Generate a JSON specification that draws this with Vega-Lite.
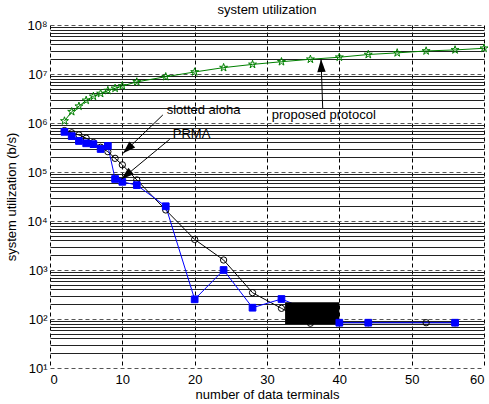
{
  "$schema": "https://vega.github.io/schema/vega-lite/v6.json",
  "width": 434,
  "height": 343,
  "autosize": "none",
  "padding": {"left": 50, "top": 25, "right": 5, "bottom": 36},
  "background": "white",
  "title": {"text": "system utilization", "fontSize": 13, "font": "Liberation Sans", "fontWeight": "normal", "color": "black", "offset": 0, "anchor": "middle", "frame": "group", "baseline": "bottom", "dy": 11},
  "config": {"view": {"stroke": null}, "font": "Liberation Sans"},
  "datasets": {
    "proposed": [
      {"x": 2, "y": 1100000}, {"x": 3, "y": 1700000}, {"x": 4, "y": 2200000}, {"x": 5, "y": 2900000},
      {"x": 6, "y": 3500000}, {"x": 7, "y": 4000000}, {"x": 8, "y": 4600000}, {"x": 9, "y": 5100000},
      {"x": 10, "y": 5700000}, {"x": 12, "y": 6900000}, {"x": 16, "y": 8800000}, {"x": 20, "y": 11000000},
      {"x": 24, "y": 13500000}, {"x": 28, "y": 15700000}, {"x": 32, "y": 17800000}, {"x": 36, "y": 20000000},
      {"x": 40, "y": 22000000}, {"x": 44, "y": 25000000}, {"x": 48, "y": 27000000}, {"x": 52, "y": 29500000},
      {"x": 56, "y": 31000000}, {"x": 60, "y": 33500000}
    ],
    "prma": [
      {"x": 2, "y": 660000}, {"x": 3, "y": 540000}, {"x": 4, "y": 430000}, {"x": 5, "y": 385000},
      {"x": 6, "y": 370000}, {"x": 7, "y": 295000}, {"x": 8, "y": 340000}, {"x": 9, "y": 72000},
      {"x": 10, "y": 63000}, {"x": 12, "y": 54000}, {"x": 16, "y": 20000}, {"x": 20, "y": 252},
      {"x": 24, "y": 1000}, {"x": 28, "y": 170}, {"x": 32, "y": 256}, {"x": 40, "y": 84},
      {"x": 44, "y": 84}, {"x": 56, "y": 84}
    ],
    "aloha": [
      {"x": 2, "y": 700000}, {"x": 3, "y": 630000}, {"x": 4, "y": 570000}, {"x": 5, "y": 490000},
      {"x": 6, "y": 400000}, {"x": 7, "y": 320000}, {"x": 8, "y": 260000}, {"x": 9, "y": 190000},
      {"x": 10, "y": 140000}, {"x": 12, "y": 69000}, {"x": 16, "y": 16800}, {"x": 20, "y": 4200},
      {"x": 24, "y": 1600}, {"x": 28, "y": 344}, {"x": 32, "y": 165}, {"x": 36, "y": 82},
      {"x": 40, "y": 84}, {"x": 44, "y": 84}, {"x": 52, "y": 84}, {"x": 56, "y": 84}
    ],
    "box": [{"x": 32.5, "x2": 40, "y": 219, "y2": 79}],
    "arrows": [
      {"name": "aloha", "x": 15.6, "y": 1460000, "x2": 10.1, "y2": 241000},
      {"name": "prma", "x": 16.55, "y": 465000, "x2": 9.86, "y2": 71000},
      {"name": "proposed", "x": 37.7, "y": 2020000, "x2": 37.47, "y2": 20000000}
    ],
    "labels": [
      {"label": "slotted aloha", "x": 16.13, "y": 1840000},
      {"label": "PRMA", "x": 16.97, "y": 597000},
      {"label": "proposed protocol", "x": 30.65, "y": 1460000}
    ]
  },
  "layer": [
    {
      "data": {"name": "proposed"},
      "mark": {"type": "line", "color": "#008000", "strokeWidth": 1},
      "encoding": {
        "x": {"field": "x", "type": "quantitative", "scale": {"domain": [0, 60], "nice": false, "zero": false},
          "axis": {"title": "number of data terminals", "values": [0, 10, 20, 30, 40, 50, 60], "grid": true, "gridDash": [4, 3], "gridColor": "#000000", "gridWidth": 1, "gridOpacity": 1,
            "ticks": false, "domain": false, "labelFontSize": 13, "labelColor": "black", "labelPadding": 5, "labelFont": "Liberation Sans",
            "titleFontSize": 13, "titleFontWeight": "normal", "titleColor": "black", "titlePadding": 2, "titleFont": "Liberation Sans"}},
        "y": {"field": "y", "type": "quantitative", "scale": {"type": "log", "domain": [10, 100000000], "nice": false},
          "axis": {"title": "system utilization (b/s)",
            "values": [10, 20, 30, 40, 50, 60, 70, 80, 90, 100, 200, 300, 400, 500, 600, 700, 800, 900, 1000, 2000, 3000, 4000, 5000, 6000, 7000, 8000, 9000, 10000, 20000, 30000, 40000, 50000, 60000, 70000, 80000, 90000, 100000, 200000, 300000, 400000, 500000, 600000, 700000, 800000, 900000, 1000000, 2000000, 3000000, 4000000, 5000000, 6000000, 7000000, 8000000, 9000000, 10000000, 20000000, 30000000, 40000000, 50000000, 60000000, 70000000, 80000000, 90000000, 100000000],
            "labelExpr": "abs(log(datum.value)/LN10 - round(log(datum.value)/LN10)) < 0.001 ? '10' + ['⁰','¹','²','³','⁴','⁵','⁶','⁷','⁸'][round(log(datum.value)/LN10)] : ''",
            "grid": true,
            "gridDash": {"condition": {"test": "abs(log(datum.value)/LN10 - round(log(datum.value)/LN10)) < 0.001", "value": [4, 3]}, "value": []},
            "gridColor": {"condition": {"test": "abs(log(datum.value)/LN10 - round(log(datum.value)/LN10)) < 0.001", "value": "#555555"}, "value": "#222222"},
            "gridWidth": 1, "gridOpacity": 1,
            "ticks": false, "domain": false, "labelFontSize": 13, "labelColor": "black", "labelPadding": 3, "labelFont": "Liberation Sans", "labelOverlap": false, "labelBound": false, "labelFlush": false,
            "titleFontSize": 13, "titleFontWeight": "normal", "titleColor": "black", "titlePadding": 8, "titleFont": "Liberation Sans"}}
      }
    },
    {
      "data": {"name": "aloha"},
      "mark": {"type": "line", "color": "#000000", "strokeWidth": 1},
      "encoding": {
        "x": {"field": "x", "type": "quantitative", "scale": {"domain": [0, 60], "nice": false, "zero": false}},
        "y": {"field": "y", "type": "quantitative", "scale": {"type": "log", "domain": [10, 100000000], "nice": false}}
      }
    },
    {
      "data": {"name": "prma"},
      "mark": {"type": "line", "color": "#0000ff", "strokeWidth": 1},
      "encoding": {
        "x": {"field": "x", "type": "quantitative", "scale": {"domain": [0, 60], "nice": false, "zero": false}},
        "y": {"field": "y", "type": "quantitative", "scale": {"type": "log", "domain": [10, 100000000], "nice": false}}
      }
    },
    {
      "data": {"name": "box"},
      "mark": {"type": "rect", "color": "#000000"},
      "encoding": {
        "x": {"field": "x", "type": "quantitative", "scale": {"domain": [0, 60], "nice": false, "zero": false}},
        "x2": {"field": "x2"},
        "y": {"field": "y", "type": "quantitative", "scale": {"type": "log", "domain": [10, 100000000], "nice": false}},
        "y2": {"field": "y2"}
      }
    },
    {
      "data": {"name": "aloha"},
      "mark": {"type": "point", "shape": "circle", "filled": false, "stroke": "#000000", "strokeWidth": 1, "size": 40, "opacity": 1},
      "encoding": {
        "x": {"field": "x", "type": "quantitative", "scale": {"domain": [0, 60], "nice": false, "zero": false}},
        "y": {"field": "y", "type": "quantitative", "scale": {"type": "log", "domain": [10, 100000000], "nice": false}}
      }
    },
    {
      "data": {"name": "prma"},
      "mark": {"type": "point", "shape": "square", "filled": true, "fill": "#0000ff", "stroke": "#0000ff", "strokeWidth": 1, "size": 45, "opacity": 1},
      "encoding": {
        "x": {"field": "x", "type": "quantitative", "scale": {"domain": [0, 60], "nice": false, "zero": false}},
        "y": {"field": "y", "type": "quantitative", "scale": {"type": "log", "domain": [10, 100000000], "nice": false}}
      }
    },
    {
      "data": {"name": "proposed"},
      "mark": {"type": "point", "shape": "M0,-1L0.2245,-0.309L0.951,-0.309L0.363,0.118L0.588,0.809L0,0.382L-0.588,0.809L-0.363,0.118L-0.951,-0.309L-0.2245,-0.309Z", "filled": false, "stroke": "#008000", "strokeWidth": 1, "size": 70, "opacity": 1},
      "encoding": {
        "x": {"field": "x", "type": "quantitative", "scale": {"domain": [0, 60], "nice": false, "zero": false}},
        "y": {"field": "y", "type": "quantitative", "scale": {"type": "log", "domain": [10, 100000000], "nice": false}}
      }
    },
    {
      "data": {"name": "arrows"},
      "mark": {"type": "rule", "color": "#000000", "strokeWidth": 1},
      "encoding": {
        "x": {"field": "x", "type": "quantitative", "scale": {"domain": [0, 60], "nice": false, "zero": false}},
        "x2": {"field": "x2"},
        "y": {"field": "y", "type": "quantitative", "scale": {"type": "log", "domain": [10, 100000000], "nice": false}},
        "y2": {"field": "y2"}
      }
    },
    {
      "data": {"name": "arrows"},
      "transform": [{"filter": "datum.name == 'aloha'"}],
      "mark": {"type": "point", "shape": "M0,0L-0.33,1L0.33,1Z", "filled": true, "color": "#000000", "size": 650, "angle": 226, "opacity": 1, "strokeWidth": 0},
      "encoding": {
        "x": {"field": "x2", "type": "quantitative", "scale": {"domain": [0, 60], "nice": false, "zero": false}},
        "y": {"field": "y2", "type": "quantitative", "scale": {"type": "log", "domain": [10, 100000000], "nice": false}}
      }
    },
    {
      "data": {"name": "arrows"},
      "transform": [{"filter": "datum.name == 'prma'"}],
      "mark": {"type": "point", "shape": "M0,0L-0.33,1L0.33,1Z", "filled": true, "color": "#000000", "size": 650, "angle": 230, "opacity": 1, "strokeWidth": 0},
      "encoding": {
        "x": {"field": "x2", "type": "quantitative", "scale": {"domain": [0, 60], "nice": false, "zero": false}},
        "y": {"field": "y2", "type": "quantitative", "scale": {"type": "log", "domain": [10, 100000000], "nice": false}}
      }
    },
    {
      "data": {"name": "arrows"},
      "transform": [{"filter": "datum.name == 'proposed'"}],
      "mark": {"type": "point", "shape": "M0,0L-0.33,1L0.33,1Z", "filled": true, "color": "#000000", "size": 650, "angle": 358, "opacity": 1, "strokeWidth": 0},
      "encoding": {
        "x": {"field": "x2", "type": "quantitative", "scale": {"domain": [0, 60], "nice": false, "zero": false}},
        "y": {"field": "y2", "type": "quantitative", "scale": {"type": "log", "domain": [10, 100000000], "nice": false}}
      }
    },
    {
      "data": {"name": "labels"},
      "mark": {"type": "text", "align": "left", "baseline": "middle", "fontSize": 13, "font": "Liberation Sans", "color": "#000000"},
      "encoding": {
        "x": {"field": "x", "type": "quantitative", "scale": {"domain": [0, 60], "nice": false, "zero": false}},
        "y": {"field": "y", "type": "quantitative", "scale": {"type": "log", "domain": [10, 100000000], "nice": false}},
        "text": {"field": "label"}
      }
    }
  ]
}
